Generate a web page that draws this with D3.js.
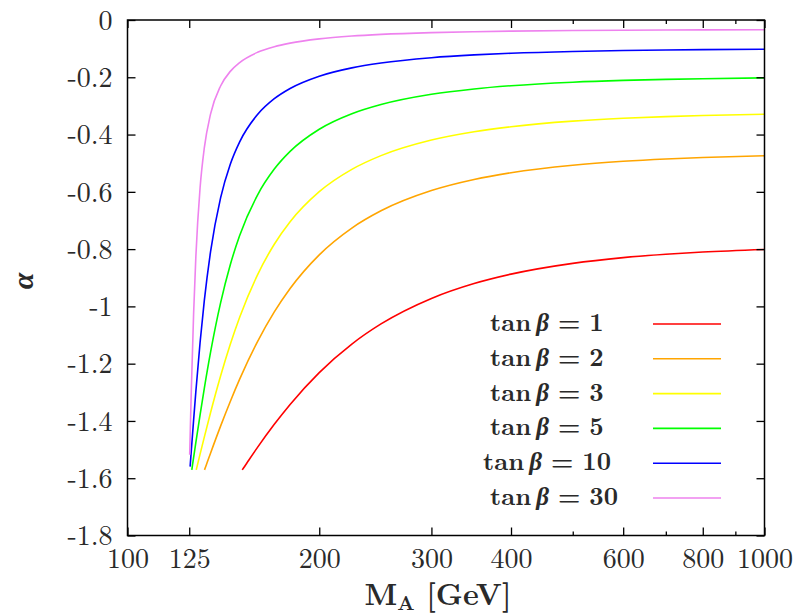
<!DOCTYPE html>
<html>
<head>
<meta charset="utf-8">
<script src="https://cdn.jsdelivr.net/npm/d3@7/dist/d3.min.js"></script>
<style>
  html, body { margin: 0; padding: 0; background: #fff; }
  svg { display: block; }
</style>
</head>
<body>
<svg id="chart" width="804" height="616"></svg>
<script>
// ---- data ----
const tanBetaValues = [1, 2, 3, 5, 10, 30];
const seriesColors = ["#ff0000", "#ffa500", "#ffff00", "#00ff00", "#0000ff", "#ee82ee"];

const alphaTb1 = [[151.4,-1.5708],[152,-1.5654],[155,-1.537],[160,-1.4924],[170,-1.4119],[180,-1.3424],[200,-1.2312],[225,-1.1316],[250,-1.0613],[300,-0.9722],[350,-0.9202],[400,-0.8874],[500,-0.8497],[600,-0.8297],[700,-0.8178],[800,-0.8101],[1000,-0.8011]];
const alphaTb2 = [[132.1,-1.5708],[133,-1.5526],[135,-1.5127],[140,-1.4181],[145,-1.3319],[150,-1.2542],[160,-1.1229],[170,-1.0193],[180,-0.9375],[200,-0.8199],[225,-0.7264],[250,-0.6662],[300,-0.5955],[350,-0.5569],[400,-0.5333],[500,-0.5070],[600,-0.4933],[700,-0.4852],[800,-0.4801],[1000,-0.4741]];
const alphaTb3 = [[128.21,-1.5708],[129,-1.5463],[130,-1.5158],[132,-1.4563],[135,-1.3714],[140,-1.2431],[145,-1.1322],[150,-1.0376],[160,-0.8897],[170,-0.7831],[180,-0.7046],[200,-0.5996],[225,-0.5216],[250,-0.4736],[300,-0.4191],[350,-0.3901],[400,-0.3726],[500,-0.3532],[600,-0.3432],[700,-0.3374],[800,-0.3336],[1000,-0.3293]];
const alphaTb5 = [[126.17,-1.5708],[126.5,-1.5534],[127,-1.5276],[128,-1.4766],[130,-1.3784],[132,-1.2861],[135,-1.1607],[140,-0.9877],[145,-0.8546],[150,-0.7525],[160,-0.6111],[170,-0.5206],[180,-0.4589],[200,-0.3816],[225,-0.3274],[250,-0.2952],[300,-0.2594],[350,-0.2407],[400,-0.2295],[500,-0.2172],[600,-0.2109],[700,-0.2072],[800,-0.2049],[1000,-0.2021]];
const alphaTb10 = [[125.4,-1.5595],[125.5,-1.5491],[126,-1.4974],[127,-1.3963],[128,-1.2999],[130,-1.1260],[132,-0.9801],[135,-0.8099],[140,-0.6210],[145,-0.5035],[150,-0.4254],[160,-0.3300],[170,-0.2748],[180,-0.2391],[200,-0.1963],[225,-0.1672],[250,-0.1502],[300,-0.1316],[350,-0.1219],[400,-0.1161],[500,-0.1098],[600,-0.1066],[700,-0.1047],[800,-0.1035],[1000,-0.1021]];
const alphaTb30 = [[125.2,-1.518],[125.3,-1.4873],[125.5,-1.4258],[126,-1.2782],[127,-1.0241],[128,-0.8314],[130,-0.5858],[132,-0.4468],[135,-0.3289],[140,-0.2304],[145,-0.1794],[150,-0.1485],[160,-0.1129],[170,-0.0932],[180,-0.0808],[200,-0.0660],[225,-0.0561],[250,-0.0503],[300,-0.0440],[350,-0.0408],[400,-0.0388],[500,-0.0367],[600,-0.0356],[700,-0.0350],[800,-0.0346],[1000,-0.0341]];

const xMajorTicks = [100, 125, 200, 300, 400, 600, 800, 1000];
const xMinorTicks = [500, 700, 900];
const yTicks = [0, -0.2, -0.4, -0.6, -0.8, -1, -1.2, -1.4, -1.6, -1.8];
const yTickLabels = ["0", "-0.2", "-0.4", "-0.6", "-0.8", "-1", "-1.2", "-1.4", "-1.6", "-1.8"];

const allSeries = [alphaTb1, alphaTb2, alphaTb3, alphaTb5, alphaTb10, alphaTb30];

// ---- layout / style ----
const L = 127.5, R = 764.5, T = 20, B = 535.5;
const LM = '"Latin Modern Roman", "Liberation Serif", serif';
const GREEK = '"Liberation Serif", "DejaVu Serif", serif';
const svg = d3.select("#chart");

const x = d3.scaleLog().domain([100, 1000]).range([L, R]);
const y = d3.scaleLinear().domain([-1.8, 0]).range([B, T]);

// curves
const line = d3.line().x(d => x(d[0])).y(d => y(d[1])).curve(d3.curveMonotoneX);
const plot = svg.append("g");
allSeries.forEach((s, i) => {
  plot.append("path").datum(s)
    .attr("d", line)
    .attr("fill", "none")
    .attr("stroke", seriesColors[i])
    .attr("stroke-width", 1.6)
    .attr("stroke-linejoin", "round");
});

// axes (ticks inward, mirrored)
const axisG = svg.append("g");
const majorLen = 8, minorLen = 4;
function addAxis(axisGen, transform) {
  const g = axisG.append("g").attr("transform", transform).call(axisGen);
  g.select(".domain").remove();
  g.selectAll("line").attr("stroke", "#000").attr("stroke-width", 1.3);
  g.selectAll("text").style("font-family", LM).style("font-size", "28px").attr("fill", "#2a2a2a");
  return g;
}
const bottomAxis = addAxis(d3.axisBottom(x).tickValues(xMajorTicks).tickSizeInner(-majorLen).tickSizeOuter(0).tickPadding(0).tickFormat(d3.format("d")), `translate(0,${B})`);
bottomAxis.selectAll("text").attr("dy", null).attr("y", 32);
addAxis(d3.axisBottom(x).tickValues(xMinorTicks).tickSizeInner(-minorLen).tickSizeOuter(0).tickFormat(""), `translate(0,${B})`);
addAxis(d3.axisTop(x).tickValues(xMajorTicks).tickSizeInner(-majorLen).tickSizeOuter(0).tickFormat(""), `translate(0,${T})`);
addAxis(d3.axisTop(x).tickValues(xMinorTicks).tickSizeInner(-minorLen).tickSizeOuter(0).tickFormat(""), `translate(0,${T})`);
const leftAxis = addAxis(d3.axisLeft(y).tickValues(yTicks).tickSizeInner(-majorLen).tickSizeOuter(0).tickPadding(15)
  .tickFormat((d, i) => yTickLabels[i]), `translate(${L},0)`);
leftAxis.selectAll("text").attr("dy", "0.33em");
addAxis(d3.axisRight(y).tickValues(yTicks).tickSizeInner(-majorLen).tickSizeOuter(0).tickFormat(""), `translate(${R},0)`);

// frame
svg.append("rect").attr("x", L).attr("y", T).attr("width", R - L).attr("height", B - T)
  .attr("fill", "none").attr("stroke", "#000").attr("stroke-width", 1.5);

// axis titles
const xt = svg.append("text").attr("x", 438).attr("y", 605).attr("text-anchor", "middle")
  .style("font-family", LM).style("font-size", "30px").style("font-weight", "bold").attr("fill", "#2a2a2a");
xt.append("tspan").text("M");
xt.append("tspan").style("font-size", "20px").attr("dy", 5).text("A");
xt.append("tspan").attr("dy", -5).text(" [GeV]");

svg.append("text").attr("transform", "translate(33,281) rotate(-90)")
  .attr("text-anchor", "middle").style("font-family", GREEK).style("font-size", "30px")
  .style("font-weight", "bold").style("font-style", "italic").attr("fill", "#2a2a2a").text("α");

// legend
const legendTop = 324, legendStep = 34.8;
const legendStartX = v => (v === 10 ? 483 : 490);
const legend = svg.append("g");
tanBetaValues.forEach((tb, i) => {
  const yy = legendTop + i * legendStep;
  const t = legend.append("text").attr("x", legendStartX(tb)).attr("y", yy + 7)
    .style("font-family", LM).style("font-size", "25px").style("font-weight", "bold").attr("fill", "#2a2a2a");
  t.append("tspan").text("tan");
  t.append("tspan").attr("dx", 5).style("font-family", GREEK).style("font-style", "italic").text("β");
  t.append("tspan").attr("dx", 9).text("=");
  t.append("tspan").attr("dx", 9).text(String(tb));
  legend.append("line").attr("x1", 653).attr("x2", 721).attr("y1", yy).attr("y2", yy)
    .attr("stroke", seriesColors[i]).attr("stroke-width", 1.6);
});
</script>
</body>
</html>
